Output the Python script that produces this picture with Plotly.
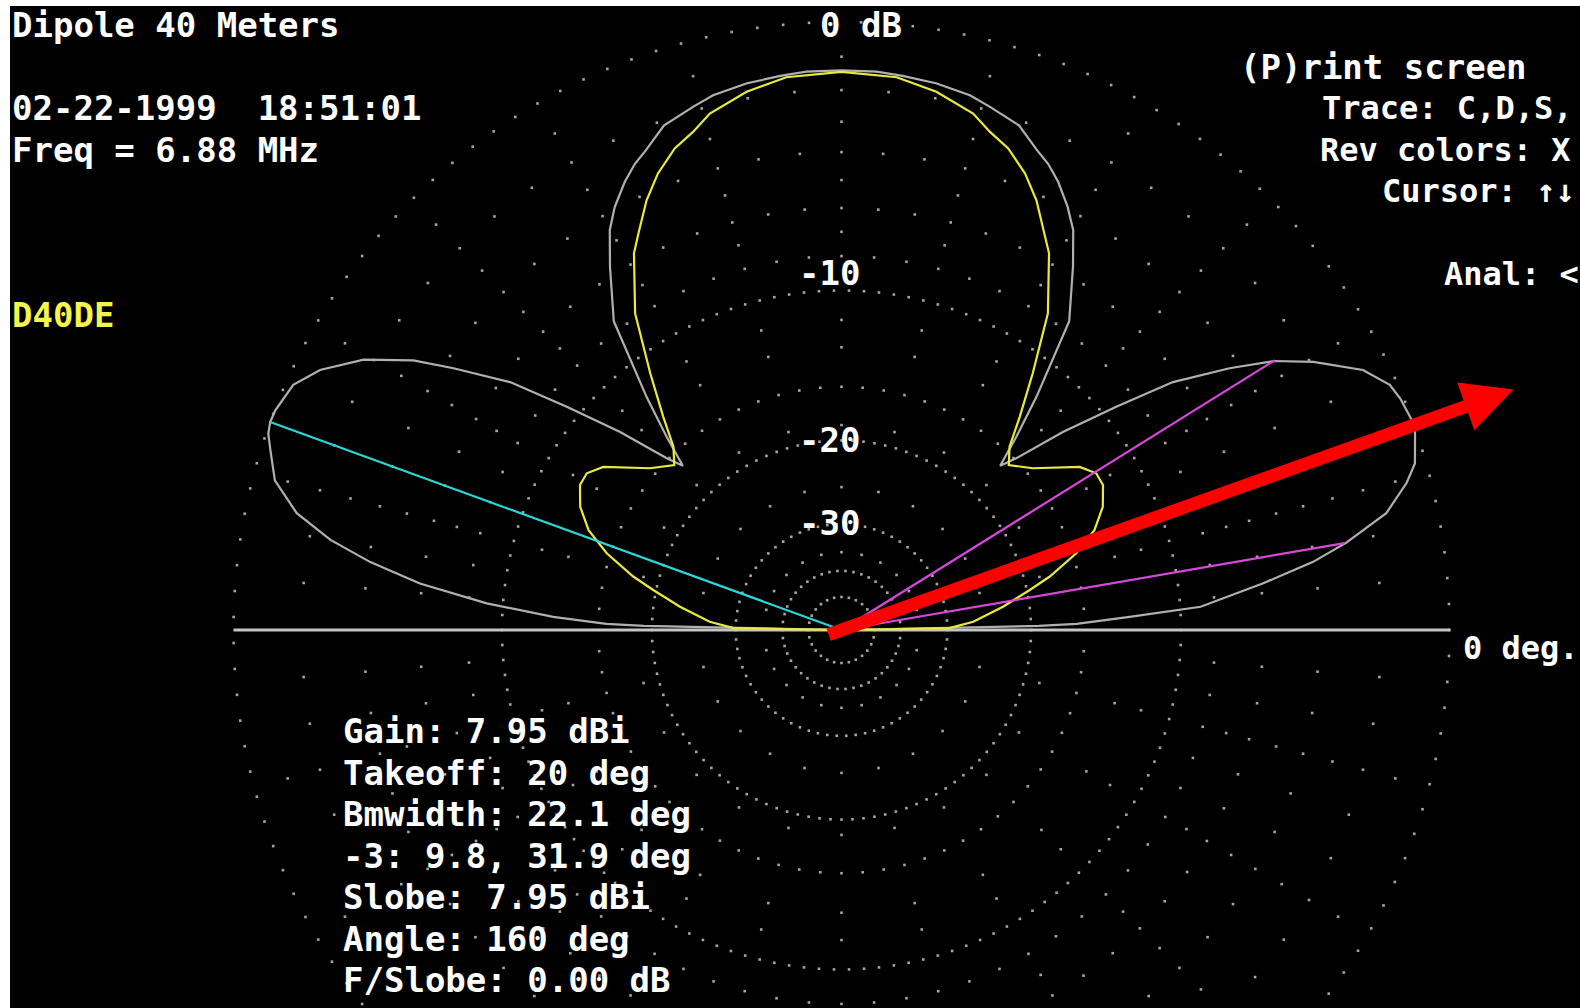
import numpy as np
import plotly.graph_objects as go

# ---------------- data ----------------
# Gray trace (Dipole 40 Meters): elevation angle (deg, 0 = right horizon) and relative dB
gray_ang = [0, 1.2, 1.5, 2.6, 3.7, 6.3, 8.2, 9.8, 12.1, 14.6, 16.2, 18.9, 20, 22.5, 24.1,
            26.5, 29.6, 31.9, 34.0, 36.8, 39.1, 41.8, 44.5, 46.0, 47.9, 50.1, 53.6, 57.5,
            59.9, 61.9, 64.2, 66.1, 67.8, 70.6, 74.2, 76.5, 80.2, 83.7, 86.4, 90,
            93.6, 96.3, 99.8, 103.5, 105.8, 109.4, 112.2, 113.9, 115.8, 118.2, 120.1,
            122.5, 126.4, 129.9, 132.1, 134.0, 135.5, 138.2, 140.9, 143.2, 146.0, 147.8,
            150.5, 153.5, 155.9, 158.8, 160, 161.1, 162.5, 165.2, 167.9, 170.0, 171.8,
            173.7, 175.7, 177.4, 178.5, 178.8, 180]
gray_db = [-99, -19.3, -16.3, -12.8, -9.0, -6.2, -4.2, -2.95, -1.5, -0.69, -0.31, -0.05, 0, -0.09, -0.21,
           -0.73, -1.95, -3.05, -4.49, -6.6, -9.28, -12.3, -15.6, -16.8, -14.5, -11.9, -7.9, -5.91,
           -4.71, -4.06, -3.43, -3.02, -2.75, -2.2, -1.91, -1.72, -1.57, -1.49, -1.43, -1.42,
           -1.43, -1.49, -1.57, -1.72, -1.91, -2.2, -2.75, -3.02, -3.43, -4.06, -4.71,
           -5.91, -7.9, -11.9, -14.5, -16.8, -15.6, -12.3, -9.28, -6.6, -4.49, -3.15,
           -1.75, -0.73, -0.21, -0.02, 0, -0.06, -0.26, -0.63, -1.5, -2.72, -4.2,
           -6.18, -9.2, -12.79, -16.3, -19.3, -99]

# Yellow trace (D40DE)
yel_ang = [0, 1.0, 3.6, 5.9, 8.2, 12.0, 14.4, 18.1, 21.55, 25.25, 29.0, 31.6, 34.4, 40.2, 44.6,
           47.5, 50.1, 53.3, 55.4, 56.9, 61.15, 62.9, 65.6, 68.1, 70.9, 73.4, 75.7, 80, 84.3, 90,
           95.7, 100, 104.3, 106.6, 109.1, 111.9, 114.4, 117.1, 118.85, 123.1, 124.6, 126.7,
           129.9, 132.5, 135.4, 139.8, 145.6, 148.4, 151, 154.75, 158.45, 161.9, 165.6, 168,
           171.8, 174.1, 176.4, 179, 180]
yel_db = [-99, -29.7, -26.2, -24.5, -22.58, -19.74, -17.84, -15.46, -13.81, -12.77, -12.18, -12.18, -12.78, -15.21, -16.32,
          -15.34, -13.44, -11.02, -9.38, -8.16, -5.94, -5.33, -4.35, -3.63, -3.03, -2.69, -2.26, -1.83, -1.55, -1.47,
          -1.55, -1.83, -2.26, -2.69, -3.03, -3.63, -4.35, -5.33, -5.94, -8.16, -9.38, -11.02,
          -13.44, -15.34, -16.32, -15.21, -12.78, -12.18, -12.18, -12.77, -13.81, -15.46, -17.84, -19.74,
          -22.58, -24.5, -26.2, -29.7, -99]

# tiny green trace at the origin
green_ang = [200, 235, 270, 305, 340]
green_db = [-85, -85, -85, -85, -85]

takeoff_deg = 20
cursor_deg = 160
cursor_db = 0
bw_angles = [9.8, 31.9]
bw_db = -3
grid_db = [0, -10, -20, -30, -40, -50]
scale_labels = ["0 dB", "-10", "-20", "-30"]

info_lines = ["Gain: 7.95 dBi", "Takeoff: 20 deg", "Bmwidth: 22.1 deg", "-3: 9.8, 31.9 deg",
              "Slobe: 7.95 dBi", "Angle: 160 deg", "F/Slobe: 0.00 dB"]
header_lines = ["Dipole 40 Meters", "02-22-1999  18:51:01", "Freq = 6.88 MHz"]
menu_lines = ["(P)rint screen", "Trace: C,D,S,", "Rev colors: X", "Cursor: \u2191\u2193", "Anal: <"]

# ---------------- geometry ----------------
W, H = 1580, 1008
L, T = 10, 6
CX, CY, R = 841.5, 630.0, 608.0


def arrl(db):
    return 0.89 ** (-np.asarray(db, dtype=float) / 2.0)


def pol(ang, db):
    r = arrl(db)
    a = np.radians(np.asarray(ang, dtype=float))
    return r * np.cos(a), r * np.sin(a)


def paper(px, py):
    return (px - L) / (W - L), (H - py) / (H - T)


fig = go.Figure()

GRID = "#a6a6a6"
# range circles (dotted)
spacing = {0: 26, -10: 15, -20: 11, -30: 9.5, -40: 8, -50: 7.5}
gx, gy = [], []
for d in grid_db:
    r = float(arrl(d))
    n = int(round(2 * np.pi * r * R / spacing[d]))
    th = np.linspace(0, 2 * np.pi, n, endpoint=False)
    gx.extend(r * np.cos(th)); gy.extend(r * np.sin(th))
# spokes (dotted radial lines)
outer15 = [0.943, 0.888, 0.836, 0.786, 0.740, 0.694, 0.655, 0.615]
outer5 = [0.888, 0.786, 0.694, 0.615]
mid15 = [0.51, 0.465, 0.40, 0.337]
mid5 = [0.40]
in15 = [0.235, 0.128]
for a in range(0, 360, 5):
    if a in (0, 180):
        continue
    rr = (outer15 + mid15 + in15) if a % 15 == 0 else (outer5 + mid5)
    ar = np.radians(a)
    for r in rr:
        gx.append(r * np.cos(ar)); gy.append(r * np.sin(ar))
fig.add_trace(go.Scatter(x=gx, y=gy, mode="markers",
                         marker=dict(symbol="square", size=2.6, color=GRID, line=dict(width=0)),
                         hoverinfo="skip"))

# ground line
fig.add_trace(go.Scatter(x=[-1, 1.001], y=[0, 0], mode="lines",
                         line=dict(color="#c4c4c4", width=3), hoverinfo="skip"))

# patterns
x, y = pol(gray_ang, gray_db)
fig.add_trace(go.Scatter(x=x, y=y, mode="lines", line=dict(color="#b0b0b0", width=2.2)))
x, y = pol(yel_ang, yel_db)
fig.add_trace(go.Scatter(x=x, y=y, mode="lines", line=dict(color="#eaea3c", width=2.2)))
x, y = pol(green_ang, green_db)
fig.add_trace(go.Scatter(x=x, y=y, mode="lines", line=dict(color="#22cc22", width=3)))

# cursor & beamwidth lines
cx_, cy_ = pol([cursor_deg], [cursor_db])
fig.add_trace(go.Scatter(x=[0, cx_[0]], y=[0, cy_[0]], mode="lines",
                         line=dict(color="#2ad8d8", width=2.2)))
for a in bw_angles:
    bx, by = pol([a], [bw_db])
    fig.add_trace(go.Scatter(x=[0, bx[0]], y=[0, by[0]], mode="lines",
                             line=dict(color="#d848d8", width=2.2)))

annotations = []
# red arrow along takeoff direction
ta = np.radians(takeoff_deg - 0.3)
tip_r, tail_r = 1.174, -0.025
annotations.append(dict(x=tip_r * np.cos(ta), y=tip_r * np.sin(ta), xref="x", yref="y",
                        ax=tail_r * np.cos(ta), ay=tail_r * np.sin(ta), axref="x", ayref="y",
                        showarrow=True, arrowhead=2, arrowsize=0.78, arrowwidth=13,
                        arrowcolor="#ff0000", text=""))

FONT = "DejaVu Sans Mono"
FS = 34


def label(px, py, text, color="#ffffff", size=FS):
    xp, yp = paper(px, py)
    annotations.append(dict(x=xp, y=yp, xref="paper", yref="paper", text=text,
                            showarrow=False, xanchor="left", yanchor="middle",
                            font=dict(family=FONT, size=size, color=color, weight="bold")))


for t, py in zip(header_lines, [25, 108, 150]):
    label(10, py, t)
label(10, 315, "D40DE", "#f4f44c")
for t, (px, py) in zip(scale_labels, [(818, 25), (797, 273), (797, 440), (797, 523)]):
    label(px, py, t)
label(1461, 648, "0 deg.", size=32)
label(1238, 67, menu_lines[0])
for t, (px, py) in zip(menu_lines[1:], [(1320, 108), (1318, 150), (1380, 191), (1442, 274)]):
    label(px, py, t, size=32)
for i, t in enumerate(info_lines):
    label(341, 731 + i * 41.5, t)

fig.update_layout(
    width=W, height=H,
    margin=dict(l=L, r=0, t=T, b=0, pad=0),
    paper_bgcolor="#ffffff", plot_bgcolor="#000000",
    showlegend=False, hovermode=False,
    xaxis=dict(range=[(L - CX) / R, (W - CX) / R], visible=False, fixedrange=True),
    yaxis=dict(range=[(CY - H) / R, (CY - T) / R], visible=False, fixedrange=True),
    annotations=annotations,
)

fig.write_html("out.html", config={"displayModeBar": False},
               post_script="document.body.style.margin='0px';document.body.style.padding='0px';"
                           "document.body.style.overflow='hidden';")
